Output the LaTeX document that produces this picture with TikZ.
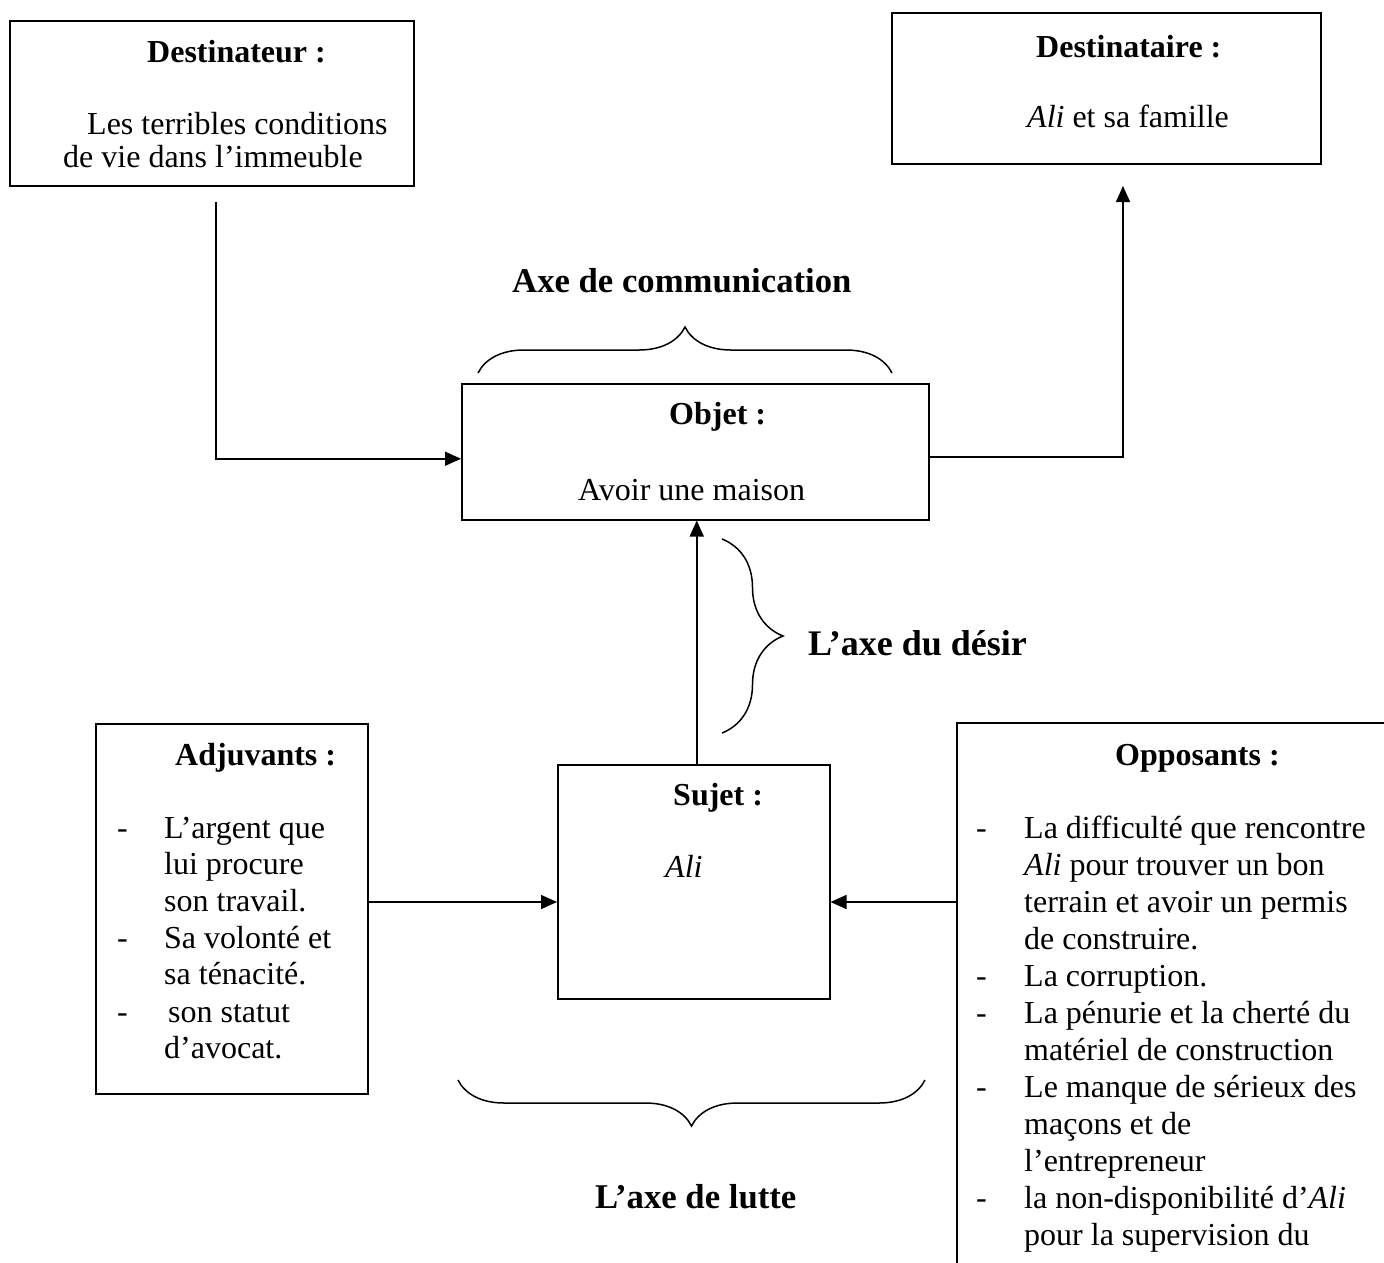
\documentclass[tikz,border=0pt]{standalone}
\usepackage{fontspec}
\setmainfont{Liberation Serif}
\usetikzlibrary{arrows.meta,decorations.pathreplacing}
\begin{document}
\begin{tikzpicture}[x=1pt,y=-1pt,
  box/.style={draw, line width=1.5pt, inner sep=0pt, anchor=north west},
  txt/.style={inner sep=0pt, anchor=base west, font=\fontsize{32}{37}\selectfont},
  ttl/.style={inner sep=0pt, anchor=base west, font=\fontsize{32}{37}\selectfont\bfseries},
  axe/.style={inner sep=0pt, anchor=base west, font=\fontsize{34.7}{40}\selectfont\bfseries},
  arr/.style={line width=1.5pt, -{Triangle[length=16pt,width=14pt]}},
  brc/.style={line width=1.5pt, decorate, decoration={brace, amplitude=46pt}}]
\clip (0,0) rectangle (1384,1262);
\fill[white] (0,0) rectangle (1384,1262);
% boxes
\node[box, minimum width=404pt, minimum height=165pt] (dest) at (9,20) {};
\node[box, minimum width=429pt, minimum height=151pt] (destz) at (891,12) {};
\node[box, minimum width=467pt, minimum height=136pt] (obj) at (461,383) {};
\node[box, minimum width=272pt, minimum height=234pt] (suj) at (557,764) {};
\node[box, minimum width=272pt, minimum height=370pt] (adj) at (95,723) {};
\node[box, minimum width=520pt, minimum height=620pt] (opp) at (956,722) {};
% texts
\node[ttl] (tdest) at (147,62) {Destinateur :};
\node[txt] (tdest1) at (87,134) {Les terribles conditions};
\node[txt] (tdest2) at (63,167) {de vie dans l’immeuble};
\node[ttl] (tdestz) at (1036,57) {Destinataire :};
\node[txt] (tdestz1) at (1027,127) {\textit{Ali} et sa famille};
\node[axe] (tcom) at (512,292) {Axe de communication};
\node[ttl] (tobj) at (669,424) {Objet :};
\node[txt] (tobj1) at (578,500) {Avoir une maison};
\node[axe, font=\fontsize{36}{41}\selectfont\bfseries] (tdes) at (808,655) {L’axe du désir};
\node[ttl] (tsuj) at (673,805) {Sujet :};
\node[txt] (tsuj1) at (665,877) {\textit{Ali}};
\node[ttl] (tadj) at (175,765) {Adjuvants :};
\node[ttl] (topp) at (1115,765) {Opposants :};
\node[axe] (tlut) at (595,1208) {L’axe de lutte};
% adjuvants list
\foreach \y [count=\i] in {838,948,1022} \node[txt] (ad\i) at (117,\y) {-};
\foreach \t [count=\i from 0] in {L’argent que,lui procure,son travail.,Sa volonté et,sa ténacité.}
  \node[txt] (al\i) at (164,838+36.7*\i) {\t};
\node[txt] (al5) at (168,1022) {son statut};
\node[txt] (al6) at (164,1058) {d’avocat.};
% opposants list
\foreach \y [count=\i] in {838,986,1023,1097,1208} \node[txt] (od\i) at (976,\y) {-};
\foreach \t [count=\i from 0] in {La difficulté que rencontre,\textit{Ali} pour trouver un bon,terrain et avoir un permis,de construire.,La corruption.,La pénurie et la cherté du,matériel de construction,Le manque de sérieux des,maçons et de,l’entrepreneur,la non-disponibilité d’\textit{Ali},pour la supervision du}
  \node[txt] (ol\i) at (1024,838+37*\i) {\t};
% connectors
\coordinate (d1) at (216,202);
\coordinate (z1) at (1123,186);
\coordinate (lvl) at (0,902);
\draw[arr] (d1) |- ([yshift=-7pt]obj.west);
\draw[arr] ([yshift=-5pt]obj.east) -| (z1);
\draw[arr] ([xshift=3pt]suj.north) -- ([xshift=3pt]suj.north |- obj.south);
\draw[arr] (adj.east |- lvl) -- (suj.west |- lvl);
\draw[arr] (opp.west |- lvl) -- (suj.east |- lvl);
% braces
\draw[brc] (478,373) -- (892,373);
\draw[brc, decoration={brace, amplitude=61pt}] (722,539) -- (722,733);
\draw[brc] (925,1080) -- (458,1080);
\end{tikzpicture}
\end{document}
